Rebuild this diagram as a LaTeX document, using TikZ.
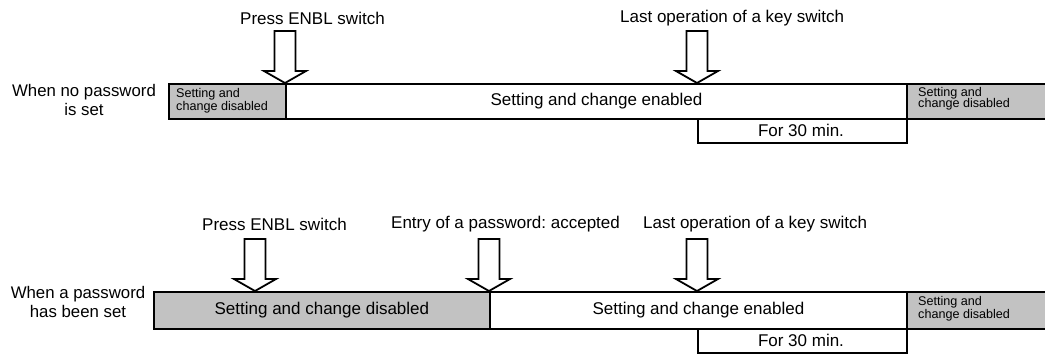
\documentclass[tikz,border=0pt]{standalone}
\usepackage{fontspec}
\setmainfont{Liberation Sans}
\frenchspacing
\definecolor{barg}{RGB}{194,194,194}
\begin{document}
\begin{tikzpicture}[x=1pt,y=-1pt,
  outl/.style={draw=black,line width=1.8pt},
  grayseg/.style={outl,fill=barg,inner sep=0pt,anchor=north west},
  whiteseg/.style={outl,fill=white,inner sep=0pt,anchor=north west},
  bigtxt/.style={font=\fontsize{17}{19}\selectfont,inner sep=0pt},
  smalltxt/.style={font=\fontsize{12.6}{10.5}\selectfont,align=left,inner sep=0pt,anchor=west},
  sidetxt/.style={font=\fontsize{16.8}{19.5}\selectfont,align=center,inner sep=0pt},
  blockarrow/.pic={\draw[outl,fill=white,line join=miter] (0,0) -- (-21,-12) -- (-10.5,-12) -- (-10.5,-52) -- (10.5,-52) -- (10.5,-12) -- (21,-12) -- cycle;}
]
\useasboundingbox (0,0) rectangle (1045,354);

% ---------- Row 1 ----------
\node[sidetxt] (lab1) at (84,100) {When no password\\is set};
\node[grayseg,minimum width=117,minimum height=35] (g11) at (168,83) {};
\node[whiteseg,minimum width=621,minimum height=35] (w1) at (285,83) {};
\node[grayseg,minimum width=139,minimum height=35] (g12) at (906,83) {};
\node[whiteseg,minimum width=209,minimum height=24] (t1) at (697,118) {};
\node[smalltxt] (s11) at (176,101) {Setting and\\change disabled};
\node[smalltxt] (s12) at (918,99) {Setting and\\[-2pt]change disabled};
\node[bigtxt] (e1) at (w1.center) {Setting and change enabled};
\node[bigtxt] (f1) at (801,130) {For 30 min.};
\coordinate (a11) at (285,83);
\coordinate (a12) at (697,83);
\pic at (a11) {blockarrow};
\pic at (a12) {blockarrow};
\node[bigtxt,anchor=west] (p1) at (240,18) {Press ENBL switch};
\node[bigtxt,anchor=west] (l1) at (620,18) {Last operation of a key switch};

% ---------- Row 2 ----------
\node[sidetxt] (lab2) at (78,302) {When a password\\has been set};
\node[grayseg,minimum width=336,minimum height=37] (g21) at (153,291) {};
\node[whiteseg,minimum width=417,minimum height=37] (w2) at (489,291) {};
\node[grayseg,minimum width=139,minimum height=37] (g22) at (906,291) {};
\node[whiteseg,minimum width=209,minimum height=24] (t2) at (697,328) {};
\node[bigtxt] (d2) at (g21.center) {Setting and change disabled};
\node[smalltxt] (s22) at (918,309) {Setting and\\change disabled};
\node[bigtxt] (e2) at (w2.center) {Setting and change enabled};
\node[bigtxt] (f2) at (801,340) {For 30 min.};
\coordinate (a21) at (255,291);
\coordinate (a22) at (489,291);
\coordinate (a23) at (697,291);
\pic at (a21) {blockarrow};
\pic at (a22) {blockarrow};
\pic at (a23) {blockarrow};
\node[bigtxt,anchor=west] (p2) at (202,224) {Press ENBL switch};
\node[bigtxt,anchor=west] (n2) at (391,224) {Entry of a password: accepted};
\node[bigtxt,anchor=west] (l2) at (643,224) {Last operation of a key switch};
\end{tikzpicture}
\end{document}
